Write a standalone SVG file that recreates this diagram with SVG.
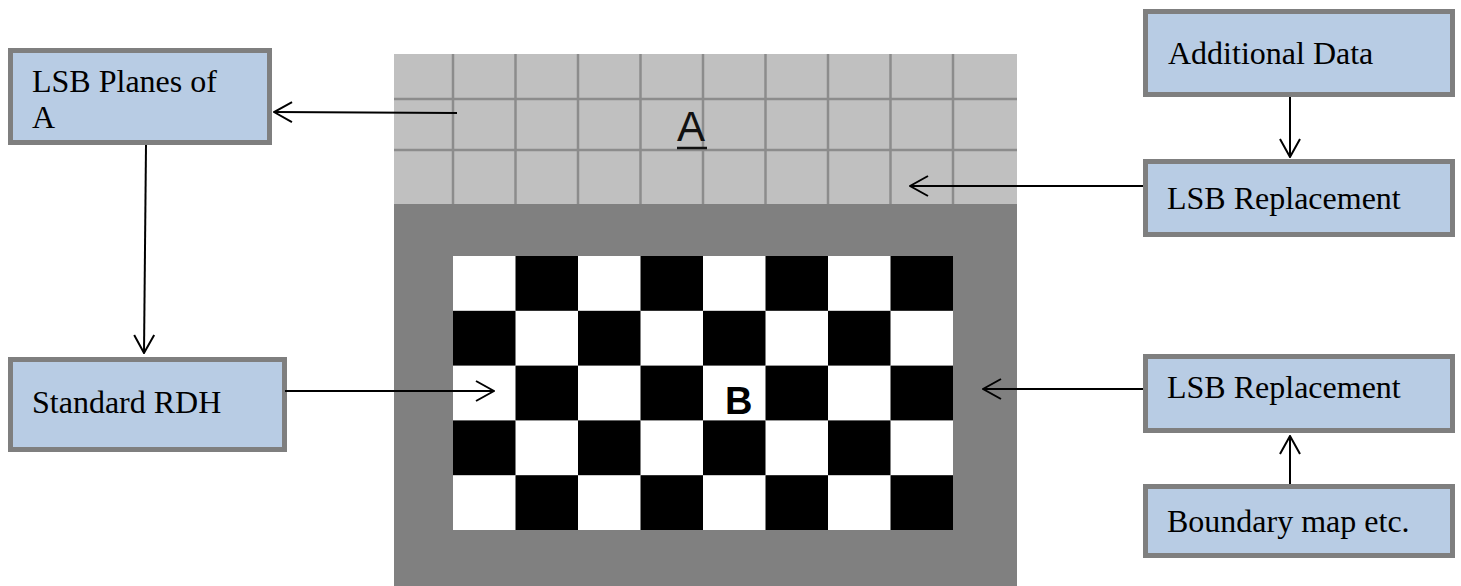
<svg xmlns="http://www.w3.org/2000/svg" width="1461" height="586" viewBox="0 0 1461 586">
  <style>
    .box { fill: #B8CCE4; stroke: #7F7F7F; stroke-width: 5; }
    .lbl { font-family: "Liberation Serif", "Times New Roman", serif; font-size: 32px; fill: #000; }
    .conn { stroke: #000; stroke-width: 2; fill: none; marker-end: url(#arr); }
    .gl { stroke: #8C8C8C; stroke-width: 2.5; }
    .blk { fill: #000; }
  </style>
  <defs>
    <marker id="arr" markerUnits="userSpaceOnUse" viewBox="0 0 20 24" refX="19" refY="12" markerWidth="20" markerHeight="24" orient="auto">
      <path d="M1,2 L19,12 L1,22" fill="none" stroke="#000" stroke-width="2"/>
    </marker>
  </defs>
  <rect width="1461" height="586" fill="#fff"/>

  <g id="image">
    <rect x="394" y="54" width="623" height="150" fill="#C0C0C0"/>
    <rect x="394" y="204" width="623" height="382" fill="#808080"/>
    <g id="grid-lines">
      <line class="gl" x1="453" y1="54" x2="453" y2="204"/>
      <line class="gl" x1="515.5" y1="54" x2="515.5" y2="204"/>
      <line class="gl" x1="578" y1="54" x2="578" y2="204"/>
      <line class="gl" x1="640.5" y1="54" x2="640.5" y2="204"/>
      <line class="gl" x1="703" y1="54" x2="703" y2="204"/>
      <line class="gl" x1="765.5" y1="54" x2="765.5" y2="204"/>
      <line class="gl" x1="828" y1="54" x2="828" y2="204"/>
      <line class="gl" x1="890.5" y1="54" x2="890.5" y2="204"/>
      <line class="gl" x1="953" y1="54" x2="953" y2="204"/>
      <line class="gl" x1="394" y1="99" x2="1017" y2="99"/>
      <line class="gl" x1="394" y1="150" x2="1017" y2="150"/>
    </g>
    <g id="checker">
      <rect x="453" y="256" width="500" height="274" fill="#fff"/>
      <rect class="blk" x="515.5" y="256" width="62.5" height="54.8"/>
      <rect class="blk" x="640.5" y="256" width="62.5" height="54.8"/>
      <rect class="blk" x="765.5" y="256" width="62.5" height="54.8"/>
      <rect class="blk" x="890.5" y="256" width="62.5" height="54.8"/>
      <rect class="blk" x="453" y="310.8" width="62.5" height="54.8"/>
      <rect class="blk" x="578" y="310.8" width="62.5" height="54.8"/>
      <rect class="blk" x="703" y="310.8" width="62.5" height="54.8"/>
      <rect class="blk" x="828" y="310.8" width="62.5" height="54.8"/>
      <rect class="blk" x="515.5" y="365.6" width="62.5" height="54.8"/>
      <rect class="blk" x="640.5" y="365.6" width="62.5" height="54.8"/>
      <rect class="blk" x="765.5" y="365.6" width="62.5" height="54.8"/>
      <rect class="blk" x="890.5" y="365.6" width="62.5" height="54.8"/>
      <rect class="blk" x="453" y="420.4" width="62.5" height="54.8"/>
      <rect class="blk" x="578" y="420.4" width="62.5" height="54.8"/>
      <rect class="blk" x="703" y="420.4" width="62.5" height="54.8"/>
      <rect class="blk" x="828" y="420.4" width="62.5" height="54.8"/>
      <rect class="blk" x="515.5" y="475.2" width="62.5" height="54.8"/>
      <rect class="blk" x="640.5" y="475.2" width="62.5" height="54.8"/>
      <rect class="blk" x="765.5" y="475.2" width="62.5" height="54.8"/>
      <rect class="blk" x="890.5" y="475.2" width="62.5" height="54.8"/>
    </g>
    <text x="677" y="141" font-family="Liberation Sans, Arial, sans-serif" font-size="42" fill="#111">A</text>
    <line x1="677" y1="148" x2="707" y2="148" stroke="#111" stroke-width="2.5"/>
    <text x="725" y="414" font-family="Liberation Sans, Arial, sans-serif" font-size="38" font-weight="bold" fill="#000">B</text>
  </g>

  <g id="node-lsb-planes">
    <rect class="box" x="10.5" y="50.5" width="259" height="92"/>
    <text class="lbl" x="32" y="92">LSB Planes of</text>
    <text class="lbl" x="32" y="128">A</text>
  </g>
  <g id="node-standard-rdh">
    <rect class="box" x="10.5" y="359.5" width="274" height="90"/>
    <text class="lbl" x="32" y="413">Standard RDH</text>
  </g>
  <g id="node-additional-data">
    <rect class="box" x="1145.5" y="11.5" width="307" height="83"/>
    <text class="lbl" x="1168" y="64">Additional Data</text>
  </g>
  <g id="node-lsb-replacement-1">
    <rect class="box" x="1145.5" y="161.5" width="307" height="73"/>
    <text class="lbl" x="1167" y="209">LSB Replacement</text>
  </g>
  <g id="node-lsb-replacement-2">
    <rect class="box" x="1145.5" y="356.5" width="307" height="74"/>
    <text class="lbl" x="1167" y="398">LSB Replacement</text>
  </g>
  <g id="node-boundary-map">
    <rect class="box" x="1145.5" y="486.5" width="307" height="69"/>
    <text class="lbl" x="1167" y="532">Boundary map etc.</text>
  </g>

  <g id="connectors">
    <line class="conn" x1="457" y1="113" x2="274" y2="112"/>
    <line class="conn" x1="146" y1="145" x2="144" y2="353"/>
    <line class="conn" x1="285" y1="391" x2="494" y2="391"/>
    <line class="conn" x1="1290" y1="97" x2="1290" y2="157"/>
    <line class="conn" x1="1143" y1="186" x2="910" y2="186"/>
    <line class="conn" x1="1143" y1="389" x2="983" y2="389"/>
    <line class="conn" x1="1290" y1="484" x2="1290" y2="436"/>
  </g>
</svg>
